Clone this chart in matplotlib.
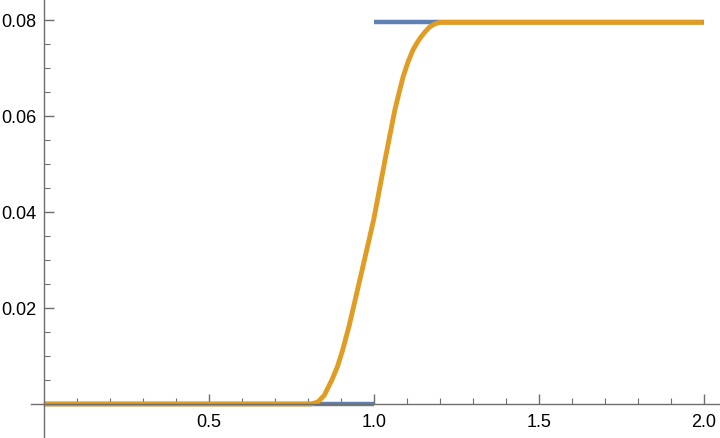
import numpy as np
import matplotlib.pyplot as plt
from matplotlib.ticker import MultipleLocator, FixedLocator

# step function (blue), two flat pieces
step_low_x = [0.0, 1.0]
step_low_y = [0.0, 0.0]
step_high_x = [1.0, 2.0]
step_high_y = [0.0795, 0.0795]

# smoothed step (orange)
smooth_x = [0.0, 0.78, 0.81, 0.83, 0.85, 0.873, 0.89, 0.906, 0.925, 0.943, 0.97,
            1.0, 1.036, 1.064, 1.078, 1.089, 1.104, 1.119, 1.13, 1.14, 1.155, 1.17, 1.185, 1.2, 1.25, 2.0]
smooth_y = [0.0, 0.0, 0.0, 0.0004, 0.0018, 0.005, 0.0078, 0.0113, 0.0162, 0.0215, 0.0295,
            0.0385, 0.0515, 0.0613, 0.0652, 0.0682, 0.0713, 0.0738, 0.0751, 0.0762, 0.0775, 0.0786, 0.0792, 0.0795, 0.0795, 0.0795]

xticks = [0.5, 1.0, 1.5, 2.0]
xlabels = ['0.5', '1.0', '1.5', '2.0']
yticks = [0.02, 0.04, 0.06, 0.08]
ylabels = ['0.02', '0.04', '0.06', '0.08']

plt.rcParams['font.family'] = ['Liberation Sans', 'DejaVu Sans']

fig = plt.figure(figsize=(7.2, 4.38), dpi=100)
ax = fig.add_axes([0, 0, 1, 1])

blue = '#5E81B5'
orange = '#E19C24'
ax.plot(step_low_x, step_low_y, color=blue, lw=3.2, solid_capstyle='butt')
ax.plot(step_high_x, step_high_y, color=blue, lw=3.2, solid_capstyle='butt')
ax.plot(smooth_x, smooth_y, color=orange, lw=3.5, solid_capstyle='butt')

ax.set_xlim(-0.1324, 2.049)
ax.set_ylim(-0.00708, 0.08417)

axis_color = '#6e6e6e'
for s in ['top', 'right']:
    ax.spines[s].set_visible(False)
ax.spines['left'].set_position(('data', 0))
ax.spines['bottom'].set_position(('data', 0))
ax.spines['bottom'].set_bounds(-0.038, 2.049)
for s in ['left', 'bottom']:
    ax.spines[s].set_color(axis_color)
    ax.spines[s].set_linewidth(1.0)

ax.xaxis.set_major_locator(FixedLocator(xticks))
ax.set_xticklabels(xlabels)
ax.xaxis.set_minor_locator(FixedLocator([i / 10 for i in range(1, 21) if i % 5 != 0]))
ax.yaxis.set_major_locator(FixedLocator(yticks))
ax.set_yticklabels(ylabels)
ax.yaxis.set_minor_locator(FixedLocator([0.005 * i for i in range(1, 17) if i % 4 != 0]))

ax.tick_params(which='both', direction='in', color=axis_color, labelsize=13, labelcolor='black')
ax.tick_params(axis='x', which='major', length=7, width=1, pad=7)
ax.tick_params(axis='y', which='major', length=7, width=1, pad=5.5)
ax.tick_params(which='minor', length=4.5, width=0.8)

fig.savefig('out.png', dpi=100)
